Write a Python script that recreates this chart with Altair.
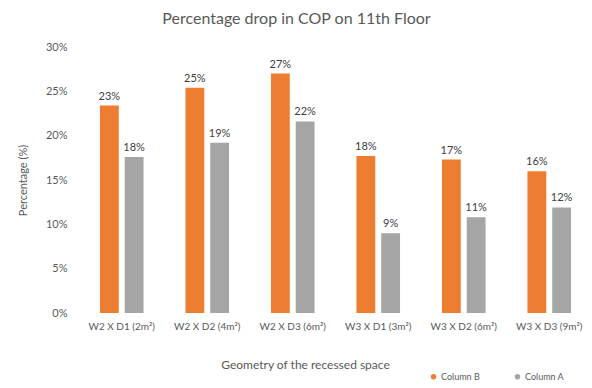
import altair as alt
import pandas as pd

# Recessed-space geometries along the x axis
categories = [
    "W2 X D1 (2m²)",
    "W2 X D2 (4m²)",
    "W2 X D3 (6m²)",
    "W3 X D1 (3m²)",
    "W3 X D2 (6m²)",
    "W3 X D3 (9m²)",
]

# Percentage drop in COP for each series (fractions)
column_b = [0.234, 0.254, 0.270, 0.177, 0.173, 0.160]
column_a = [0.176, 0.192, 0.216, 0.090, 0.108, 0.119]

series_order = ["Column B", "Column A"]
series_colors = ["#ED7D31", "#A5A5A5"]

y_ticks = [0, 0.05, 0.10, 0.15, 0.20, 0.25, 0.30]

rows = []
for cat, b, a in zip(categories, column_b, column_a):
    rows.append({"geometry": cat, "series": "Column B", "value": b})
    rows.append({"geometry": cat, "series": "Column A", "value": a})
df = pd.DataFrame(rows)

FONT = "Lato"
TEXT = "#595959"

base = alt.Chart(df).encode(
    x=alt.X(
        "geometry:N",
        sort=categories,
        scale=alt.Scale(paddingInner=0.49, paddingOuter=0.245),
        axis=alt.Axis(
            title="Geometry of the recessed space",
            labelAngle=0,
            labelFontSize=10,
            labelPadding=8,
            labelColor=TEXT,
            titleFontSize=12,
            titleFontWeight="normal",
            titleColor=TEXT,
            titleX=226,
            titleY=51,
            titleBaseline="middle",
            titleAlign="center",
        ),
    ),
    xOffset=alt.XOffset(
        "series:N", sort=series_order, scale=alt.Scale(paddingInner=0.24)
    ),
    y=alt.Y(
        "value:Q",
        scale=alt.Scale(domain=[0, 0.30]),
        axis=alt.Axis(
            title="Percentage (%)",
            values=y_ticks,
            format=".0%",
            labelFontSize=11,
            labelPadding=12,
            labelColor=TEXT,
            titleFontSize=11,
            titleFontWeight="normal",
            titleColor=TEXT,
            titleX=-56,
            titleBaseline="middle",
        ),
    ),
)

bars = base.mark_bar().encode(
    color=alt.Color(
        "series:N",
        scale=alt.Scale(domain=series_order, range=series_colors),
        legend=alt.Legend(
            title=None,
            orient="none",
            legendX=350,
            legendY=325,
            direction="horizontal",
            symbolType="circle",
            symbolSize=30,
            labelFontSize=9,
            labelColor=TEXT,
            columnPadding=33,
            labelOffset=3,
        ),
    )
)

labels = base.mark_text(
    baseline="bottom", dy=-4, fontSize=11, color="#404040", font=FONT
).encode(text=alt.Text("value:Q", format=".0%"))

chart = (
    alt.layer(bars, labels)
    .properties(
        width=513,
        height=266,
        padding={"left": 79, "top": 47, "right": 0, "bottom": 75},
        autosize="none",
        title=alt.TitleParams(
            "Percentage drop in COP on 11th Floor",
            fontSize=16,
            fontWeight="normal",
            color=TEXT,
            font=FONT,
            anchor="middle",
            dx=-39,
            offset=14,
        ),
    )
    .configure_view(stroke=None)
    .configure_axis(domain=False, ticks=False, grid=False, labelFont=FONT, titleFont=FONT)
    .configure_legend(labelFont=FONT)
)

chart.save("out.html", embed_options={"renderer": "svg", "actions": False})
